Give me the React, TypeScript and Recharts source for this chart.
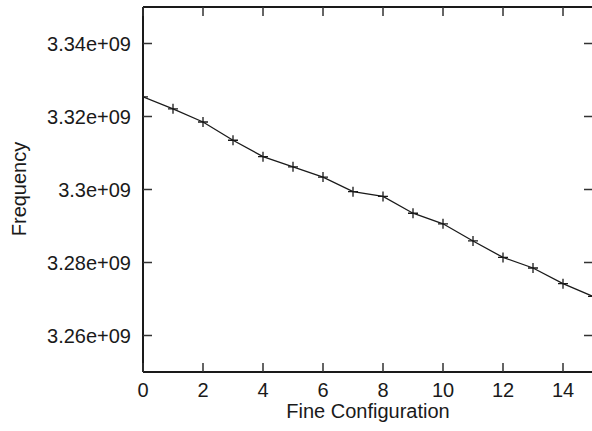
import React from 'react';
import { LineChart, Line, XAxis, YAxis } from 'recharts';

const configs = [0, 1, 2, 3, 4, 5, 6, 7, 8, 9, 10, 11, 12, 13, 14, 15];
const freqs = [
  3.3254e9, 3.3221e9, 3.3185e9, 3.3135e9, 3.309e9, 3.3062e9, 3.3034e9, 3.2994e9,
  3.2981e9, 3.2935e9, 3.2906e9, 3.2859e9, 3.2814e9, 3.2785e9, 3.2742e9, 3.2707e9,
];
const xTicks = [0, 2, 4, 6, 8, 10, 12, 14];
const yTicks = [3.26e9, 3.28e9, 3.3e9, 3.32e9, 3.34e9];

const data = configs.map((c, i) => ({ config: c, freq: freqs[i] }));

const CHART_W = 593;
const CHART_H = 431;
const LEFT_W = 143;
const TOP_H = 7;
const BOTTOM_H = 59;
const PLOT_W = CHART_W - LEFT_W;
const PLOT_H = CHART_H - TOP_H - BOTTOM_H;
const TICK = 9;

const FONT = '"Liberation Sans", Arial, sans-serif';
const INK = '#1a1a1a';
const TICK_INK = '#333';

const fmt = (v: number) => `${Number((v / 1e9).toFixed(4))}e+09`;

// left ticks point inward; the mirrored tick on the right edge is drawn here too
const LeftTick = (p: any) => (
  <g>
    <path
      d={`M${p.x},${p.y}h${TICK}M${p.x + PLOT_W - TICK},${p.y}h${TICK}`}
      stroke={TICK_INK}
      strokeWidth={1.5}
      fill="none"
    />
    <text x={p.x - 12} y={p.y} dy="0.36em" textAnchor="end" fontFamily={FONT} fontSize={20} fill={INK}>
      {fmt(p.payload.value)}
    </text>
  </g>
);

// bottom ticks point up; mirrored tick along the top border
const BottomTick = (p: any) => (
  <g>
    <path
      d={`M${p.x},${p.y}v${-TICK}M${p.x},${p.y - PLOT_H}v${TICK}`}
      stroke={TICK_INK}
      strokeWidth={1.5}
      fill="none"
    />
    <text x={p.x} y={p.y + 25} textAnchor="middle" fontFamily={FONT} fontSize={20} fill={INK}>
      {p.payload.value}
    </text>
  </g>
);

const Cross = (p: any) => {
  if (p.cx == null || p.cy == null) return <g key={p.index} />;
  return (
    <path
      key={p.index}
      d={`M${p.cx - 5},${p.cy}H${p.cx + 5}M${p.cx},${p.cy - 5}V${p.cy + 5}`}
      stroke={INK}
      strokeWidth={1.3}
      fill="none"
    />
  );
};

export default function App() {
  return (
    <div style={{ position: 'absolute', left: 0, top: 0, width: 592, height: 431, overflow: 'hidden', background: '#fff' }}>
      <LineChart width={CHART_W} height={CHART_H} data={data} margin={{ top: 0, right: 0, bottom: 0, left: 0 }}>
        <XAxis
          dataKey="config"
          type="number"
          domain={[0, 15]}
          allowDataOverflow
          ticks={xTicks}
          height={BOTTOM_H}
          tickSize={0}
          tickMargin={0}
          tickLine={false}
          tick={BottomTick}
          axisLine={{ stroke: INK, strokeWidth: 2 }}
          label={{
            content: () => (
              <text x={368} y={418} textAnchor="middle" fontFamily={FONT} fontSize={20} fill={INK}>
                Fine Configuration
              </text>
            ),
          }}
        />
        <XAxis
          xAxisId="top"
          orientation="top"
          dataKey="config"
          type="number"
          domain={[0, 15]}
          allowDataOverflow
          height={TOP_H}
          tick={false}
          tickLine={false}
          axisLine={{ stroke: INK, strokeWidth: 2 }}
        />
        <YAxis
          type="number"
          domain={[3.25e9, 3.35e9]}
          allowDataOverflow
          ticks={yTicks}
          width={LEFT_W}
          tickSize={0}
          tickMargin={0}
          tickLine={false}
          tick={LeftTick}
          axisLine={{ stroke: INK, strokeWidth: 2 }}
          label={{
            content: () => (
              <text
                x={26}
                y={189}
                transform="rotate(-90, 26, 189)"
                textAnchor="middle"
                fontFamily={FONT}
                fontSize={20}
                fill={INK}
              >
                Frequency
              </text>
            ),
          }}
        />
        <Line
          dataKey="freq"
          type="linear"
          stroke={INK}
          strokeWidth={1.3}
          dot={Cross}
          activeDot={false}
          isAnimationActive={false}
        />
      </LineChart>
    </div>
  );
}
